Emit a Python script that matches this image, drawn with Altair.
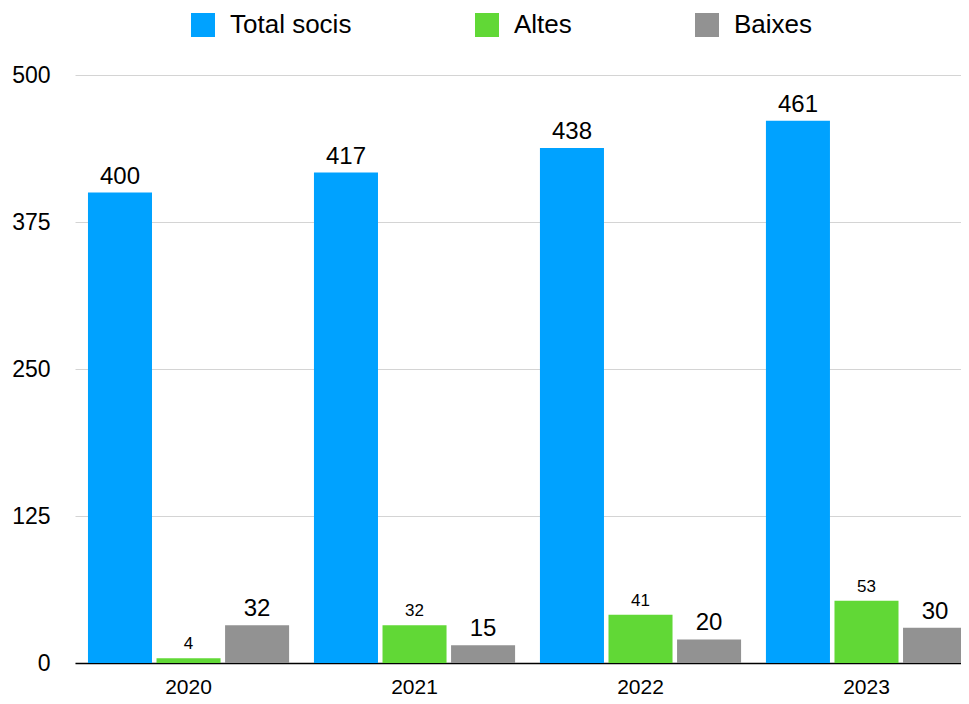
import altair as alt
import pandas as pd

years = ["2020", "2021", "2022", "2023"]
total_socis = [400, 417, 438, 461]
altes = [4, 32, 41, 53]
baixes = [32, 15, 20, 30]
series = ["Total socis", "Altes", "Baixes"]
colors = ["#00A2FF", "#61D836", "#929292"]

rows = []
for i, yr in enumerate(years):
    for s, vals in zip(series, [total_socis, altes, baixes]):
        rows.append({"year": yr, "serie": s, "value": vals[i]})
df = pd.DataFrame(rows)

FONT = "Liberation Sans"

x = alt.X(
    "year:N", title=None, sort=years,
    scale=alt.Scale(paddingInner=0.11, paddingOuter=0.033, align=0.87),
    axis=alt.Axis(labelAngle=0, labelFontSize=21, labelColor="black", labelPadding=13,
                  ticks=False, domainColor="black", domainWidth=1.5, labelFont=FONT),
)
xo = alt.XOffset("serie:N", sort=series, scale=alt.Scale(paddingInner=0.066, paddingOuter=0))
y = alt.Y(
    "value:Q", title=None,
    scale=alt.Scale(domain=[0, 500], nice=False),
    axis=alt.Axis(values=[0, 125, 250, 375, 500], labelFontSize=23, labelColor="black",
                  labelPadding=25, ticks=False, domain=False, gridColor="#d4d4d4",
                  labelFont=FONT),
)
color = alt.Color(
    "serie:N", sort=series,
    scale=alt.Scale(domain=series, range=colors),
    legend=alt.Legend(title=None, orient="none", legendX=115, legendY=-63,
                      direction="horizontal", symbolType="square", symbolSize=576,
                      symbolStrokeWidth=0, symbolOpacity=1, labelFontSize=26,
                      labelFont=FONT, labelColor="black", labelOffset=14,
                      columnPadding=122, padding=0),
)

base = alt.Chart(df)
bars = base.mark_bar().encode(x=x, xOffset=xo, y=y, color=color)
big = base.transform_filter("datum.serie != 'Altes'").mark_text(
    baseline="alphabetic", dy=-9, fontSize=24, font=FONT, color="black"
).encode(x=x, xOffset=xo, y=y, text="value:Q")
small = base.transform_filter("datum.serie == 'Altes'").mark_text(
    baseline="alphabetic", dy=-9, fontSize=17, font=FONT, color="black"
).encode(x=x, xOffset=xo, y=y, text="value:Q")

chart = alt.layer(bars, big, small).properties(
    width=894, height=588,
    padding={"left": 67, "top": 67, "right": -8, "bottom": 34},
    autosize=alt.AutoSizeParams(type="none"),
).configure_view(stroke=None)

chart.save("out.html", embed_options={"renderer": "svg", "actions": False})
